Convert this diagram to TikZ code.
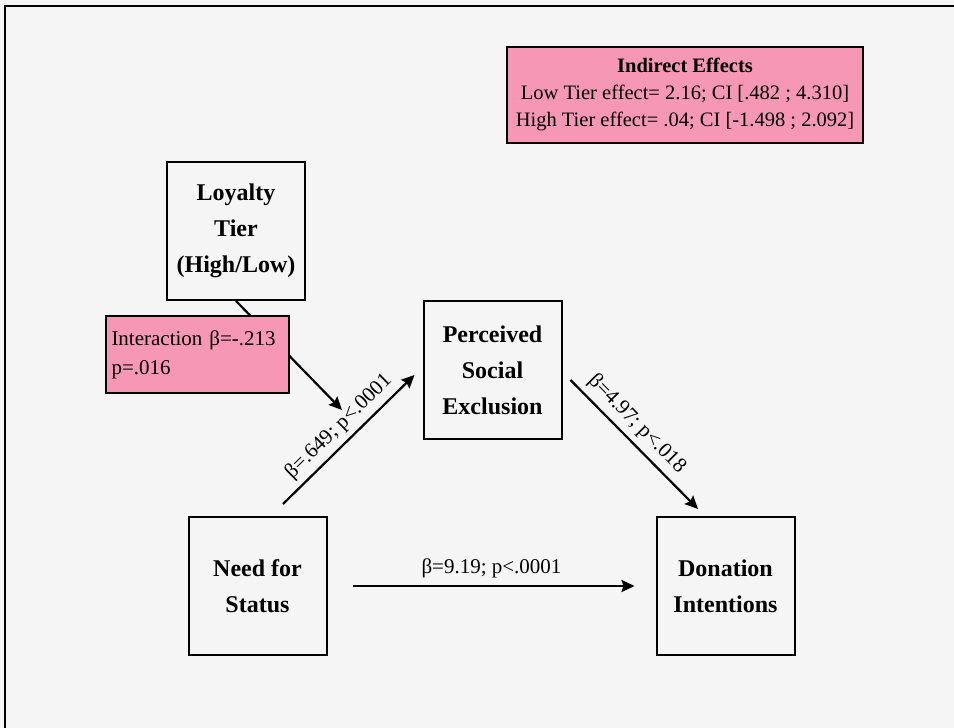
\documentclass[tikz,border=0pt]{standalone}
\usepackage{fontspec}
\setmainfont{Liberation Serif}
\usetikzlibrary{arrows.meta}
\definecolor{bggray}{HTML}{F5F5F5}
\definecolor{tierpink}{HTML}{F797B6}

\begin{document}
\begin{tikzpicture}
  [x=1pt,y=1pt,>={Stealth[length=13pt,width=12pt,inset=2pt]},
  	every node/.style={inner sep=0pt},
  	construct/.style={draw,line width=2pt,minimum width=138pt,minimum height=138pt,
  		align=center,font=\fontsize{24}{36}\selectfont\bfseries},
  	statbox/.style={draw,line width=2pt,fill=tierpink},
  	effect/.style={->,line width=2.2pt},
  	coef/.style={font=\fontsize{21}{25}\selectfont}
  ]
  \fill [bggray] (0,0) rectangle (954,728);
  \useasboundingbox (0,0) rectangle (954,728);
  \draw [line width=2pt] (5,0) -- (5,722) -- (954,722);

  \node [construct] (n1) at (236,497) {Loyalty\\Tier\\(High/Low)};
  \node [construct] (n3) at (257.5,142) {Need for\\Status};
  \node [construct] (n4) at (492.5,357.5) {Perceived\\Social\\Exclusion};
  \node [construct] (n6) at (725.5,142) {Donation\\Intentions};
  \coordinate (m1) at (342,318);

  \draw [effect] (n1.south) -- (m1);
  \draw [effect] ([shift={(25.5,12)}]n3.north) -- node [coef,sloped,above=5.5pt,pos=0.51] {β=.649; p<.0001} ([shift={(-8,-4.5)}]n4.west);
  \draw [effect] ([shift={(8,-9.5)}]n4.east) -- node [coef,sloped,above=5.5pt,pos=0.43] {β=4.97; p<.018} ([shift={(-27.5,7)}]n6.north);
  \draw [effect, shorten <=25pt, shorten >=21pt] (n3) -- node [coef,above=7pt] {β=9.19; p<.0001} (n6);

  \node [statbox,minimum width=183pt,minimum height=77pt,text width=172pt,align=left,
  	font=\fontsize{21}{29}\selectfont] (n2) at (197.5,373.5) {Interaction β=-.213\\p=.016};
  \node [statbox,line width=2.5pt,minimum width=356pt,minimum height=96pt,align=center,
  	font=\fontsize{20.5}{27}\selectfont] (n7) at (685,633)
  	{\textbf{Indirect Effects}\\Low Tier effect= 2.16; CI [.482 ; 4.310]\\High Tier effect= .04; CI [-1.498 ; 2.092]};
\end{tikzpicture}
\end{document}
